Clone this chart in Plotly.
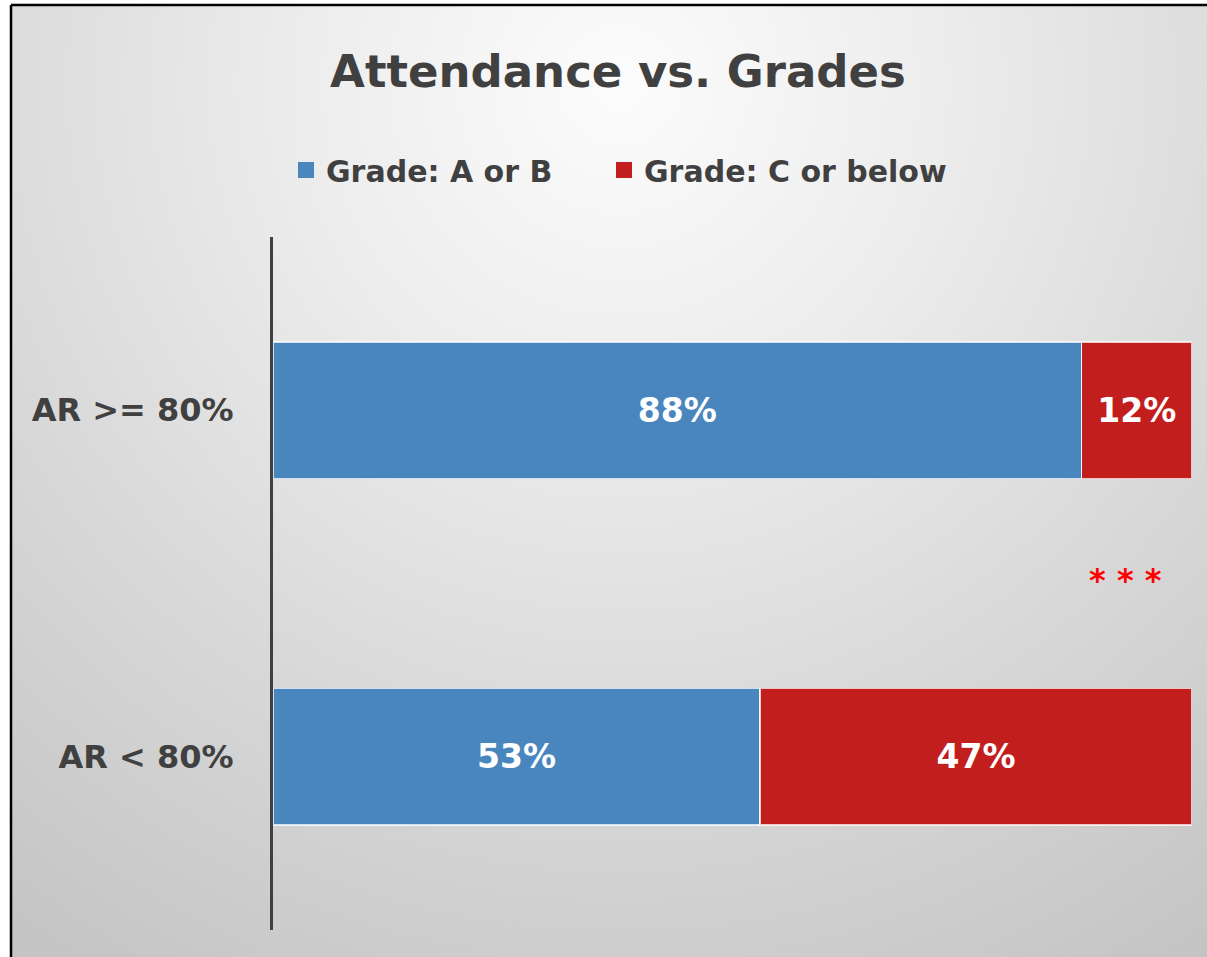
import base64
import plotly.graph_objects as go

# data
categories = ['AR < 80%', 'AR >= 80%']
grade_ab = [53, 88]
grade_c_below = [47, 12]
series_names = ['Grade: A or B', 'Grade: C or below']
title_text = 'Attendance vs. Grades'
significance = '* * *'

BLUE = '#4A86BE'
RED  = '#C21E1E'
DARK = '#404040'
FONT = 'DejaVu Sans'

W, H = 1207, 957

# plot area edges in pixels
PLOT_L, PLOT_R = 273, 1192
PLOT_T, PLOT_B = 237, 930

bar_edge = dict(color='rgba(255,255,255,0.75)', width=1.5)
label_font = dict(family=FONT, size=33, color='white', weight='bold')
legend_font = dict(family=FONT, size=30, color=DARK, weight='bold')

fig = go.Figure()

fig.add_trace(go.Bar(y=categories, x=grade_ab, orientation='h', name=series_names[0],
                     marker=dict(color=BLUE, line=bar_edge), width=0.395,
                     texttemplate='%{x}%', textposition='inside', insidetextanchor='middle',
                     textangle=0, textfont=label_font, showlegend=False, hoverinfo='skip'))
fig.add_trace(go.Bar(y=categories, x=grade_c_below, orientation='h', name=series_names[1],
                     marker=dict(color=RED, line=bar_edge), width=0.395,
                     texttemplate='%{x}%', textposition='inside', insidetextanchor='middle',
                     textangle=0, textfont=label_font, showlegend=False, hoverinfo='skip'))

# legend entries with bigger square swatches, one legend box each so they can be spaced
for name, col, lg in zip(series_names, [BLUE, RED], ['legend', 'legend2']):
    fig.add_trace(go.Scatter(x=[None], y=[None], mode='markers', name=name, legend=lg,
                             marker=dict(symbol='square', size=16, color=col)))

# radial grey background, light at the top centre
svg = ('<svg xmlns="http://www.w3.org/2000/svg" width="%d" height="%d" viewBox="0 0 %d %d">'
       '<defs><radialGradient id="g" gradientUnits="userSpaceOnUse" cx="615" cy="80" r="1050">'
       '<stop offset="0" stop-color="#FCFCFC"/><stop offset="0.3" stop-color="#EDEDED"/>'
       '<stop offset="0.65" stop-color="#D8D8D8"/><stop offset="1" stop-color="#C4C4C4"/>'
       '</radialGradient></defs><rect width="100%%" height="100%%" fill="url(#g)"/></svg>') % (W, H, W, H)
bg_src = 'data:image/svg+xml;base64,' + base64.b64encode(svg.encode()).decode()

fig.update_layout(
    width=W, height=H,
    margin=dict(l=0, r=0, t=0, b=0),
    paper_bgcolor='white', plot_bgcolor='rgba(0,0,0,0)',
    barmode='stack',
    font=dict(family=FONT, color=DARK),
    title=dict(text=title_text, x=618 / W, y=1 - 71 / H, xanchor='center', yanchor='middle',
               font=dict(family=FONT, size=45, color=DARK, weight='bold')),
    legend=dict(orientation='h', x=286 / W, xanchor='left', y=1 - 170 / H, yanchor='middle',
                font=legend_font, bgcolor='rgba(0,0,0,0)', itemclick=False),
    legend2=dict(orientation='h', x=604 / W, xanchor='left', y=1 - 170 / H, yanchor='middle',
                 font=legend_font, bgcolor='rgba(0,0,0,0)', itemclick=False),
    xaxis=dict(domain=[PLOT_L / W, PLOT_R / W], range=[0, 100], visible=False),
    yaxis=dict(domain=[1 - PLOT_B / H, 1 - PLOT_T / H], range=[-0.5, 1.5],
               showline=True, linecolor=DARK, linewidth=3, showgrid=False, zeroline=False,
               ticks='', ticklabelstandoff=30,
               tickfont=dict(family=FONT, size=32, color=DARK, weight='bold')),
    images=[dict(source=bg_src, xref='paper', yref='paper', x=11 / W, y=1 - 5 / H,
                 sizex=1 - 11 / W, sizey=1 - 5 / H, xanchor='left', yanchor='top',
                 sizing='stretch', layer='below')],
    shapes=[dict(type='line', xref='paper', yref='paper', x0=11 / W, x1=11 / W, y0=0, y1=1 - 5 / H,
                 line=dict(color='black', width=2.5)),
            dict(type='line', xref='paper', yref='paper', x0=11 / W, x1=1, y0=1 - 5 / H, y1=1 - 5 / H,
                 line=dict(color='black', width=2.5))],
    annotations=[dict(text=significance, xref='paper', yref='paper', x=1164 / W, y=1 - 580 / H,
                      showarrow=False,
                      font=dict(family=FONT, size=32, color='#FF0000', weight='bold'))],
)

# drop the browser's default body margin so the figure sits at the page origin
fig.write_html("out.html", config={'displayModeBar': False},
               post_script="document.body.style.margin='0';document.body.style.overflow='hidden';")
